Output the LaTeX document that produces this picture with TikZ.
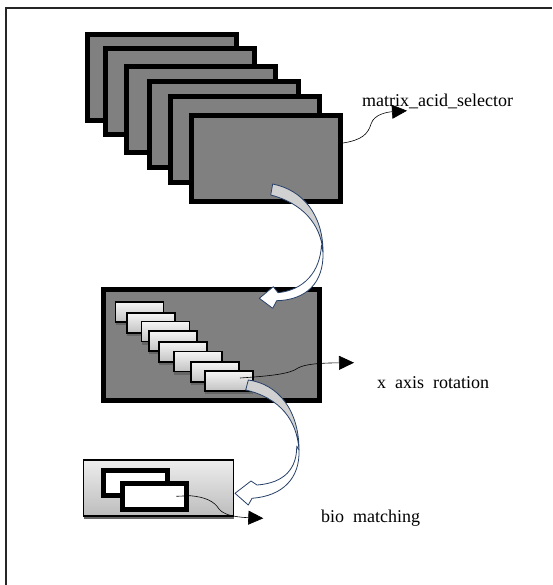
\documentclass[tikz,border=0pt]{standalone}
\usepackage{fontspec}
\setmainfont{Liberation Serif}
\usepackage{tikz}
\usetikzlibrary{arrows.meta,positioning,calc,shadows}
\definecolor{bandblue}{RGB}{38,64,104}
\tikzstyle{card}=[draw=black,fill=black!50,line width=5pt,minimum width=149pt,minimum height=86pt,inner sep=0pt]
\tikzstyle{panel}=[draw=black,fill=black!50,line width=5pt,minimum width=216pt,minimum height=111pt,inner sep=0pt]
\tikzstyle{tile}=[draw=black,line width=1.8pt,top color=black!4,bottom color=black!24,minimum width=48pt,minimum height=20pt,inner sep=0pt,drop shadow={shadow xshift=0pt,shadow yshift=-3pt,fill=black!60,opacity=1}]
\tikzstyle{tray}=[draw=black,line width=1.8pt,top color=black!7,bottom color=black!26,minimum width=150pt,minimum height=56pt,inner sep=0pt,drop shadow={shadow xshift=0pt,shadow yshift=-3pt,fill=black!60,opacity=1}]
\tikzstyle{slot}=[draw=black,fill=white,line width=5pt,minimum width=64pt,minimum height=25.5pt,inner sep=0pt]
\tikzstyle{lbl}=[inner sep=0pt,anchor=base west,font=\fontsize{18pt}{20pt}\selectfont]
\tikzstyle{wire}=[black,line width=0.6pt,-{Triangle[length=15pt,width=14pt]}]
\tikzstyle{band}=[draw=bandblue,line width=0.8pt,line join=round]

\begin{document}
\begin{tikzpicture}[x=1pt,y=-1pt]
\useasboundingbox (0,0) rectangle (552,585);
\draw[line width=1.8pt,black!85] (6,585) -- (6,8) -- (552,8);

% stack of matrices
\node [card] (c1) at (162,78) {};
\node [card] (c2) at (179.5,92) {};
\node [card] (c3) at (200.5,109.5) {};
\node [card] (c4) at (223.5,125) {};
\node [card] (c5) at (245,139.5) {};
\node [card] (c6) at (266,158.5) {};

% rotation panel
\node [panel] (p) at (211.5,345) {};
\node [tile] (t1) at (139.5,312) {};
\node [tile] (t2) at (151,323) {};
\node [tile] (t3) at (165.5,331.5) {};
\node [tile] (t4) at (173,341) {};
\node [tile] (t5) at (183,352) {};
\node [tile] (t6) at (198,361.5) {};
\node [tile] (t7) at (215,372) {};
\node [tile] (t8) at (229,381) {};

% matching tray
\node [tray] (b) at (158.5,487.8) {};
\node [slot] (w1) at (135,483) {};
\node [slot] (w2) at (154.3,496.3) {};

% labels
\node [lbl] (sel) at (362,106.7) {matrix\_acid\_selector};
\node [lbl] (rot) at (377,388.3) {x~~axis~~rotation};
\node [lbl] (bio) at (321,522.5) {bio~~matching};
\coordinate (selpt) at (407,110.7);
\coordinate (rotpt) at (354,362.7);
\coordinate (biopt) at (263.3,518.3);

% thin arrows
\draw [wire] ([yshift=15.5pt]c6.east) .. controls (362,140) and (368,134) .. (371,124)
  .. controls (374,114) and (388,112) .. (selpt);
\draw [wire] ([shift={(11pt,3pt)}]t8.center) .. controls (270,376) and (290,374) .. (298,368)
  .. controls (305,364) and (320,363) .. (rotpt);
\draw [wire] ([xshift=22pt]w2.center) -- (190,495.7) .. controls (205,497) and (214,501) .. (219,509)
  .. controls (223,514) and (232,517) .. (biopt);

% curved block arrows
\filldraw [band,fill=white] (321.5,245) .. controls (320,272) and (304,290) .. (278,292.7)
  -- (273.3,286.7) -- (259.3,298.3) -- (272.7,308.3) -- (276.7,300.7)
  .. controls (306,300) and (324,283) .. (323,252) -- cycle;
\filldraw [band,fill=black!18] (272.7,184) .. controls (303,190) and (323,215) .. (323,252)
  .. controls (321,224) and (302,203) .. (270.7,195) -- cycle;
\filldraw [band,fill=white] (296.7,446) .. controls (297,468) and (285,483) .. (257,485)
  -- (251,481) -- (235,493.3) -- (248.3,505) -- (252,498.3)
  .. controls (283,496) and (300,478) .. (299,450) -- cycle;
\filldraw [band,fill=black!18] (248.3,380) .. controls (278,384) and (299,410) .. (299,450)
  .. controls (297,420) and (280,398) .. (245.7,390) -- cycle;
\end{tikzpicture}
\end{document}
